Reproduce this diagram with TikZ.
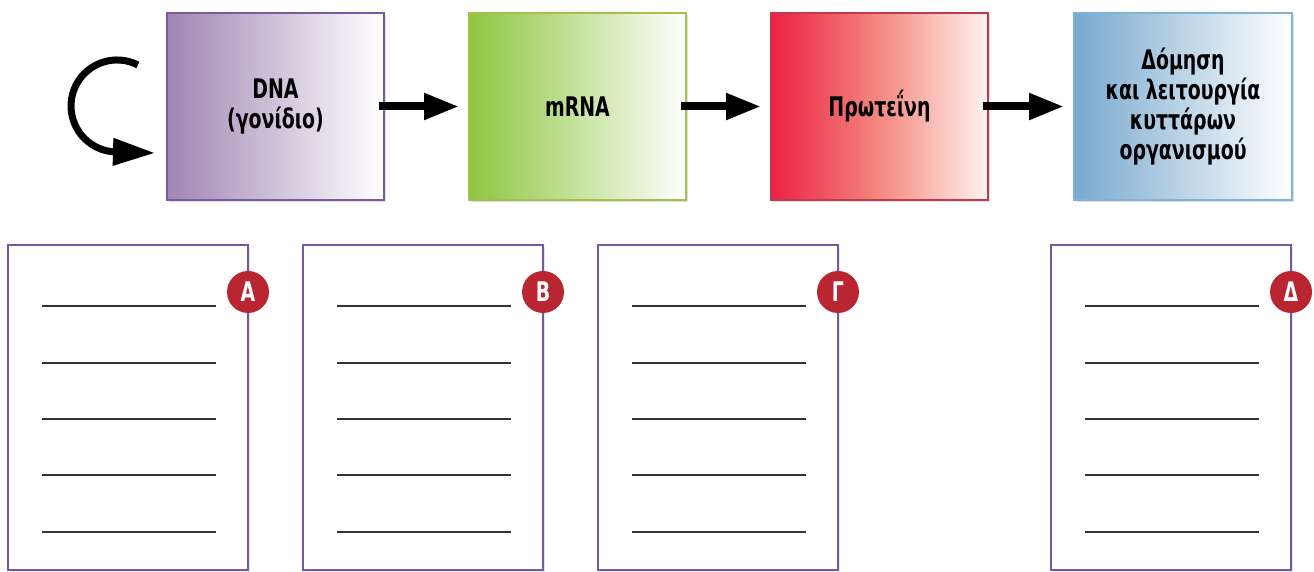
\documentclass[tikz,border=0pt]{standalone}
\usepackage{fontspec}
\newfontfamily\cfont{DejaVu Sans}[FakeStretch=0.70]
\usetikzlibrary{arrows.meta,shadows,calc}
\definecolor{dnaL}{HTML}{A085B4}
\definecolor{dnaB}{HTML}{7A5AA2}
\definecolor{rnaL}{HTML}{8CC63F}
\definecolor{rnaB}{HTML}{A8BF4E}
\definecolor{prL}{HTML}{EC2045}
\definecolor{prM}{HTML}{F4897F}
\definecolor{prR}{HTML}{FFF4F0}
\definecolor{prB}{HTML}{BE3A4E}
\definecolor{ceL}{HTML}{78A9CF}
\definecolor{ceB}{HTML}{80B3DA}
\definecolor{frameB}{HTML}{7558A2}
\definecolor{badgeR}{HTML}{BA2532}
\tikzset{
  topbox/.style={minimum width=217pt, minimum height=187pt, line width=2pt, shading=axis, right color=white, shading angle=90,
    align=center, font=\cfont\bfseries\fontsize{27}{30}\selectfont, inner sep=0pt,
    drop shadow={opacity=0.25, shadow xshift=2pt, shadow yshift=-2pt}},
  sheet/.style={minimum width=240pt, minimum height=325pt, line width=2.5pt, draw=frameB, fill=white, inner sep=0pt,
    drop shadow={opacity=0.2, shadow xshift=2pt, shadow yshift=-2pt}},
  badge/.style={circle, fill=badgeR, minimum size=42pt, inner sep=0pt, text=white, font=\cfont\bfseries\fontsize{27}{27}\selectfont},
  rule/.style={line width=1.3pt, draw=black!80},
  bigarrow/.style={line width=8pt, -{Triangle[length=35pt,width=25pt]}},
  looparrow/.style={line width=7pt, -{Triangle[length=42pt,width=26pt]}}
}
\begin{document}
\begin{tikzpicture}[x=1pt,y=1pt]
\useasboundingbox (0,0) rectangle (1314,572);
% top boxes
\node[topbox, draw=dnaB, left color=dnaL] (dna) at (275.5,465.5) {DNA\\(γονίδιο)};
\node[topbox, draw=rnaB, left color=rnaL] (mrna) at (577.5,465.5) {mRNA};
\node[topbox, draw=prB, left color=prL, right color=prR, middle color=prM] (prot) at (879.5,465.5) {Πρωτεΐνη};
\node[topbox, draw=ceB, left color=ceL, minimum width=218pt] (cell) at (1183,465.5) {Δόμηση\\και λειτουργία\\κυττάρων\\οργανισμού};
% arrows
\draw[bigarrow] ([xshift=-6pt]dna.east) -- ([xshift=-9pt]mrna.west);
\draw[bigarrow] ([xshift=-6pt]mrna.east) -- ([xshift=-9pt]prot.west);
\draw[bigarrow] ([xshift=-6pt]prot.east) -- ([xshift=-9pt]cell.west);
% loop arrow
\coordinate (loopstart) at (137.9,507);
\draw[looparrow] (loopstart) arc[start angle=63, end angle=270, radius=46pt] -- ([xshift=-11pt,yshift=-46.5pt]dna.west);
% sheets
\foreach \nm/\cx/\lab in {A/128/Α, B/423/Β, G/718/Γ, D/1171/Δ}{
  \node[sheet] (s\nm) at (\cx,164.5) {};
  \foreach \yy in {266,209,153,97,40}{
    \draw[rule] (\cx-86,\yy) -- (\cx+88,\yy);
  }
  \node[badge] (b\nm) at (\cx+120,280) {\lab};
}
\end{tikzpicture}
\end{document}
